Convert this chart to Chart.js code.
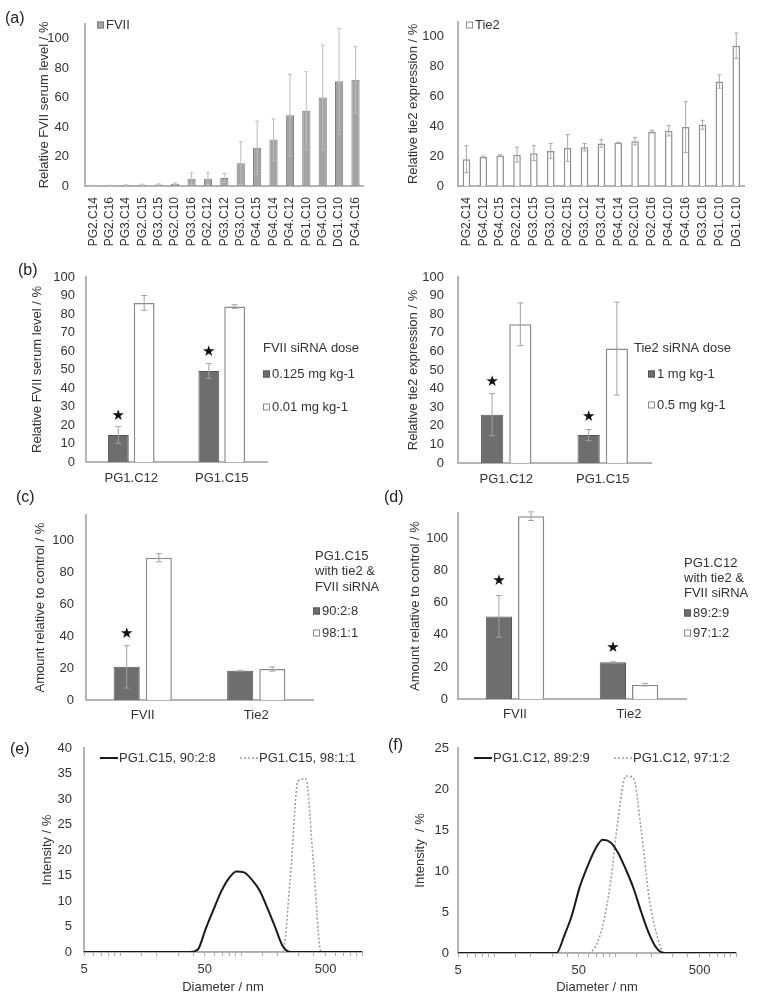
<!DOCTYPE html>
<html><head><meta charset="utf-8">
<script src="https://cdn.jsdelivr.net/npm/chart.js@4.4.1/dist/chart.umd.min.js"></script>
<style>
body{margin:0;background:#fff;width:762px;height:1007px;position:relative;overflow:hidden;font-family:"Liberation Sans",Arial,sans-serif;}
canvas{position:absolute;}
.lbl{position:absolute;font-size:16px;line-height:16px;color:#222;}
</style></head><body>
<canvas id="cA1" width="381" height="255" style="left:0;top:0"></canvas>
<canvas id="cA2" width="381" height="255" style="left:381px;top:0"></canvas>
<canvas id="cB1" width="381" height="235" style="left:0;top:255px"></canvas>
<canvas id="cB2" width="381" height="235" style="left:381px;top:255px"></canvas>
<canvas id="cC" width="381" height="235" style="left:0;top:490px"></canvas>
<canvas id="cD" width="381" height="235" style="left:381px;top:490px"></canvas>
<canvas id="cE" width="381" height="282" style="left:0;top:725px"></canvas>
<canvas id="cF" width="381" height="282" style="left:381px;top:725px"></canvas>
<div class="lbl" style="left:5px;top:10px">(a)</div>
<div class="lbl" style="left:18px;top:262px">(b)</div>
<div class="lbl" style="left:16px;top:489px">(c)</div>
<div class="lbl" style="left:384px;top:489px">(d)</div>
<div class="lbl" style="left:10px;top:741px">(e)</div>
<div class="lbl" style="left:388px;top:737px">(f)</div>
<script>
// ---------- data ----------
const fviiCats = ['PG2.C14','PG2.C16','PG3.C14','PG2.C15','PG3.C15','PG2.C10','PG3.C16','PG2.C12','PG3.C12','PG3.C10','PG4.C15','PG4.C14','PG4.C12','PG1.C10','PG4.C10','DG1.C10','PG4.C16'];
const fviiVals = [0.3,0.3,0.5,0.8,1,1.5,5,5,5.5,15.5,26,31.5,48,51,60,71,72];
const fviiErr  = [0.2,0.2,0.3,0.4,0.5,0.5,4,4,3,14.5,18,14,27.5,26.5,35.5,36,22.5];

const tie2Cats = ['PG2.C14','PG4.C12','PG4.C15','PG2.C12','PG3.C15','PG3.C10','PG2.C15','PG3.C12','PG3.C14','PG4.C14','PG2.C10','PG2.C16','PG4.C10','PG4.C16','PG3.C16','PG1.C10','DG1.C10'];
const tie2Vals = [18,19.5,20.5,21,22,23.5,25.5,26,28.5,29,30,36.5,37,39.5,41,70,94];
const tie2Err  = [9,0.5,0.5,5,5,5,9,2.5,2.5,0.3,2.5,1,3.5,17,3,4.5,8.5];

const bCats = ['PG1.C12','PG1.C15'];
const b1High = [14.6,49.2], b1HighErr = [4.5,4];
const b1Low  = [86,84],     b1LowErr  = [4,1];
const b2High = [26,15],     b2HighErr = [11.3,3];
const b2Low  = [74.6,61.5], b2LowErr  = [11.5,25];
const bStars = [true,true];

const cdCats = ['FVII','Tie2'];
const cA = [20.8,18.3], cAErr = [13.3,0.3];
const cB = [89.2,19.4], cBErr = [2.5,1.3];
const cStars = [true,false];
const dA = [51.5,22.9], dAErr = [13,0.3];
const dB = [114,8.9],   dBErr = [2.7,0.8];
const dStars = [true,true];

const diameters = [4.849,5.615,6.503,7.531,8.721,10.1,11.7,13.54,15.69,18.17,21.04,24.36,28.21,32.67,37.84,43.82,50.75,58.77,68.06,78.82,91.28,105.7,122.4,141.8,164.2,190.1,220.2,255.0,295.3,342.0,396.1,458.7,531.2,615.1,712.4,825.0,955.4,1106];
const e_90_2_8 = [0,0,0,0,0,0,0,0,0,0,0,0,0,0,0,0.5,4.5,8.2,11.8,14.4,15.8,15.6,14.2,12.1,8.7,5.0,1.2,0,0,0,0,0,0,0,0,0,0,0];
const e_98_1_1 = [0,0,0,0,0,0,0,0,0,0,0,0,0,0,0,0,0,0,0,0,0,0,0,0,0,0,0,14.5,33.5,34,17.5,0,0,0,0,0,0,0];
const f_89_2_9 = [0,0,0,0,0,0,0,0,0,0,0,0,0,0,2.1,4.6,8.0,10.5,12.6,13.8,13.5,12.2,10.2,7.9,5.0,2.4,0.6,0,0,0,0,0,0,0,0,0,0,0];
const f_97_1_2 = [0,0,0,0,0,0,0,0,0,0,0,0,0,0,0,0,0,0,0.7,3.3,8.5,16.3,21.6,21.3,15,6.9,2.3,0,0,0,0,0,0,0,0,0,0,0];
const logLabels = [5,50,500];

// ---------- styles ----------
const FONT = 'Liberation Sans';
const TXT = '#333';
const AX = '#b4b4b4';
const DARK = {backgroundColor:'#6e6e6e', borderColor:'#575757', borderWidth:1, errorColor:'#a3a3a3'};
const LIGHT = {backgroundColor:'#ffffff', borderColor:'#8a8a8a', borderWidth:1.5, errorColor:'#a3a3a3'};

// ---------- plugins ----------
const errorBarPlugin = {
  id:'errorBars',
  afterDatasetsDraw(chart, args, o){
    const ctx = chart.ctx, ys = chart.scales.y;
    chart.data.datasets.forEach((ds, di) => {
      if (!ds.errors) return;
      const meta = chart.getDatasetMeta(di);
      meta.data.forEach((el, i) => {
        const v = ds.data[i], e = ds.errors[i];
        const top = ys.getPixelForValue(v + e), bot = ys.getPixelForValue(Math.max(0, v - e));
        const cap = o.cap || 3;
        ctx.save();
        ctx.strokeStyle = ds.errorColor || '#999';
        ctx.lineWidth = 1;
        ctx.beginPath();
        ctx.moveTo(el.x, top); ctx.lineTo(el.x, bot);
        ctx.moveTo(el.x - cap, top); ctx.lineTo(el.x + cap, top);
        ctx.moveTo(el.x - cap, bot); ctx.lineTo(el.x + cap, bot);
        ctx.stroke();
        if (ds.stars && ds.stars[i]) {
          ctx.fillStyle = '#111';
          ctx.font = '15px "DejaVu Sans"';
          ctx.textAlign = 'center'; ctx.textBaseline = 'middle';
          ctx.fillText('\u2605', el.x, top - (o.starOffset || 12));
        }
        ctx.restore();
      });
    });
  }
};
const barGapPlugin = {
  id:'barGap',
  afterDatasetsUpdate(chart, args, o){
    if (!o || !o.gap) return;
    const n = chart.data.datasets.length;
    chart.data.datasets.forEach((ds, di) => {
      const shift = (di - (n - 1) / 2) * o.gap;
      chart.getDatasetMeta(di).data.forEach(el => { el.x += shift; });
    });
  }
};
const panelLegendPlugin = {
  id:'panelLegend',
  afterDraw(chart, args, o){
    if (!o || o.x == null) return;
    const ctx = chart.ctx;
    ctx.save();
    ctx.font = '13px "' + FONT + '"';
    ctx.fillStyle = TXT; ctx.textBaseline = 'middle'; ctx.textAlign = 'left';
    (o.heading || []).forEach((t, i) => ctx.fillText(t, o.x, o.y + i * (o.headingStep || 15)));
    chart.data.datasets.forEach((ds, i) => {
      const ix = o.itemXs ? o.itemXs[i] : (o.itemX != null ? o.itemX : o.x);
      const iy = o.itemXs ? o.y : o.itemY + i * o.itemStep;
      if (o.kind === 'line') {
        ctx.save();
        ctx.strokeStyle = ds.borderColor; ctx.lineWidth = ds.borderWidth;
        ctx.setLineDash(ds.borderDash || []);
        ctx.beginPath(); ctx.moveTo(ix, iy); ctx.lineTo(ix + 18, iy); ctx.stroke();
        ctx.restore();
        ctx.fillStyle = TXT;
        ctx.fillText(ds.label, ix + 19, iy);
      } else {
        ctx.fillStyle = ds.backgroundColor; ctx.fillRect(ix, iy - 3.5, 7, 7);
        ctx.strokeStyle = ds.borderColor; ctx.lineWidth = 1; ctx.strokeRect(ix + 0.5, iy - 3, 6, 6);
        ctx.fillStyle = TXT;
        ctx.fillText(ds.label, ix + 9, iy);
      }
    });
    ctx.restore();
  }
};
Chart.register(errorBarPlugin, barGapPlugin, panelLegendPlugin);

// ---------- helpers ----------
function yAxis(o){
  return {
    min:0, max:o.max,
    grid:{display:false, drawTicks:false},
    border:{display:true, color:AX, width:2},
    ticks:{stepSize:o.step, padding:o.tickPad, color:TXT, font:{family:FONT, size:13}, autoSkip:false,
      callback:(v) => (Math.abs(v % o.step) < 1e-9 ? String(v) : null)},
    title:{display:true, text:o.title, color:TXT, font:{family:FONT, size:13}, padding:{top:o.titlePad, bottom:0}},
    afterFit:(s) => { s.width = o.width; }
  };
}
function xCat(o){
  return {
    type:'category',
    grid:{display:false, drawTicks:false},
    border:{display:true, color:AX, width:2},
    ticks:{color:TXT, font:{family:FONT, size:o.size || 13}, padding:o.pad, autoSkip:false,
      maxRotation:o.rot || 0, minRotation:o.rot || 0},
    afterFit:(s) => { s.height = o.height; }
  };
}
function barChart(id, labels, datasets, o){
  return new Chart(document.getElementById(id), {
    type:'bar',
    data:{labels, datasets},
    options:{
      responsive:false, animation:false,
      layout:{padding:{left:0, right:o.right, top:o.top, bottom:0}},
      scales:{x:xCat(o.x), y:yAxis(o.y)},
      plugins:{legend:{display:false}, tooltip:{enabled:false},
        barGap:{gap:o.gap || 0},
        errorBars:{cap:o.cap || 3, starOffset:o.starOffset || 12},
        panelLegend:o.legend}
    }
  });
}
function pts(arr){ return diameters.map((d, i) => ({x:d, y:arr[i]})); }
function dlsChart(id, sets, o){
  const datasets = [
    {label:sets[0].label, data:pts(sets[0].data), borderColor:'#1a1a1a', borderWidth:2, pointRadius:0, cubicInterpolationMode:'monotone', fill:false},
    {label:sets[1].label, data:pts(sets[1].data), borderColor:'#9a9a9a', borderWidth:1.5, borderDash:[2,2], pointRadius:0, cubicInterpolationMode:'monotone', fill:false}
  ];
  return new Chart(document.getElementById(id), {
    type:'line',
    data:{datasets},
    options:{
      responsive:false, animation:false,
      layout:{padding:{left:0, right:o.right, top:o.top, bottom:0}},
      scales:{
        x:{type:'logarithmic', min:5, max:1000, z:1,
          grid:{display:true, drawOnChartArea:false, drawTicks:true, tickLength:4, color:'#aaa'},
          border:{display:true, color:AX, width:2},
          ticks:{autoSkip:false, maxRotation:0, color:TXT, font:{family:FONT, size:13}, padding:6,
            callback:(v) => (logLabels.some(l => Math.abs(l - v) < 1e-6) ? String(v) : '')},
          title:{display:true, text:'Diameter / nm', color:TXT, font:{family:FONT, size:13}, padding:{top:0, bottom:12}},
          afterFit:(s) => { s.height = o.xHeight; }
        },
        y:yAxis(o.y)
      },
      plugins:{legend:{display:false}, tooltip:{enabled:false}, panelLegend:o.legend}
    }
  });
}

// ---------- (a) ----------
barChart('cA1', fviiCats,
  [{label:'FVII', data:fviiVals, errors:fviiErr, backgroundColor:'#a3a3a3', borderColor:'#7d7d7d', borderWidth:1, errorColor:'#bdbdbd', barPercentage:0.5, categoryPercentage:1}],
  {right:3, top:20, cap:2,
   x:{height:69, pad:11, rot:90, size:12},
   y:{max:110, step:20, tickPad:16, width:85, title:'Relative FVII serum level / %', titlePad:37},
   legend:{x:97, y:25, itemY:25, itemStep:0}});
barChart('cA2', tie2Cats,
  [{label:'Tie2', data:tie2Vals, errors:tie2Err, backgroundColor:'#ffffff', borderColor:'#8f8f8f', borderWidth:1.5, errorColor:'#a8a8a8', barPercentage:0.45, categoryPercentage:1}],
  {right:12, top:20, cap:2,
   x:{height:69, pad:11, rot:90, size:12},
   y:{max:110, step:20, tickPad:14, width:77, title:'Relative tie2 expression / %', titlePad:25},
   legend:{x:85, y:25, itemY:25, itemStep:0}});

// ---------- (b) ----------
barChart('cB1', bCats, [
  Object.assign({label:'0.125 mg kg-1', data:b1High, errors:b1HighErr, stars:bStars, barPercentage:1, categoryPercentage:0.46}, DARK),
  Object.assign({label:'0.01 mg kg-1', data:b1Low, errors:b1LowErr, barPercentage:1, categoryPercentage:0.46}, LIGHT)],
  {right:114, top:22, gap:5, starOffset:11,
   x:{height:28, pad:9},
   y:{max:100, step:10, tickPad:11, width:86, title:'Relative FVII serum level / %', titlePad:30},
   legend:{x:263, y:93, heading:['FVII siRNA dose'], itemY:119, itemStep:33}});
barChart('cB2', bCats, [
  Object.assign({label:'1 mg kg-1', data:b2High, errors:b2HighErr, stars:bStars, barPercentage:1, categoryPercentage:0.46}, DARK),
  Object.assign({label:'0.5 mg kg-1', data:b2Low, errors:b2LowErr, barPercentage:1, categoryPercentage:0.46}, LIGHT)],
  {right:111, top:22, gap:6, starOffset:12,
   x:{height:27, pad:9},
   y:{max:100, step:10, tickPad:14, width:77, title:'Relative tie2 expression / %', titlePad:25},
   legend:{x:253, y:93, heading:['Tie2 siRNA dose'], itemX:267, itemY:119, itemStep:31}});

// ---------- (c) (d) ----------
barChart('cC', cdCats, [
  Object.assign({label:'90:2:8', data:cA, errors:cAErr, stars:cStars, barPercentage:1, categoryPercentage:0.46}, DARK),
  Object.assign({label:'98:1:1', data:cB, errors:cBErr, barPercentage:1, categoryPercentage:0.46}, LIGHT)],
  {right:68, top:25, gap:6, starOffset:12,
   x:{height:25, pad:8},
   y:{max:116, step:20, tickPad:12, width:86, title:'Amount relative to control / %', titlePad:33},
   legend:{x:315, y:66, heading:['PG1.C15','with tie2 &','FVII siRNA'], headingStep:15.5, itemX:313, itemY:121, itemStep:22}});
barChart('cD', cdCats, [
  Object.assign({label:'89:2:9', data:dA, errors:dAErr, stars:dStars, barPercentage:1, categoryPercentage:0.46}, DARK),
  Object.assign({label:'97:1:2', data:dB, errors:dBErr, barPercentage:1, categoryPercentage:0.46}, LIGHT)],
  {right:76, top:23, gap:6, starOffset:14,
   x:{height:26, pad:8},
   y:{max:116, step:20, tickPad:10, width:77, title:'Amount relative to control / %', titlePad:27},
   legend:{x:303, y:73, heading:['PG1.C12','with tie2 &','FVII siRNA'], headingStep:15, itemX:303, itemY:123, itemStep:20}});

// ---------- (e) (f) ----------
dlsChart('cE', [{label:'PG1.C15, 90:2:8', data:e_90_2_8}, {label:'PG1.C15, 98:1:1', data:e_98_1_1}],
  {right:19, top:23, xHeight:55,
   y:{max:40, step:5, tickPad:12, width:84, title:'Intensity / %', titlePad:40},
   legend:{x:100, y:33, kind:'line', itemXs:[100,240]}});
dlsChart('cF', [{label:'PG1.C12, 89:2:9', data:f_89_2_9}, {label:'PG1.C12, 97:1:2', data:f_97_1_2}],
  {right:26, top:23, xHeight:54,
   y:{max:25, step:5, tickPad:9, width:77, title:'Intensity  / %', titlePad:32},
   legend:{x:93, y:33, kind:'line', itemXs:[93,233]}});
</script>
</body></html>
